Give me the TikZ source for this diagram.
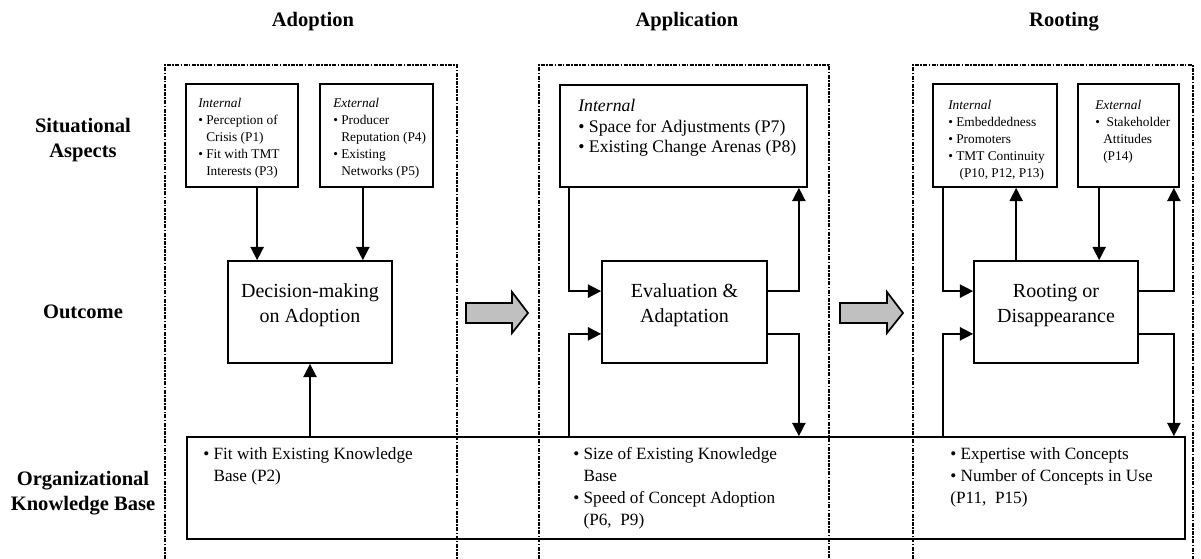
\documentclass[tikz,border=0pt]{standalone}
\usepackage{fontspec}
\setmainfont{Liberation Serif}
\usepackage{xcolor}
\usetikzlibrary{positioning,arrows.meta,fit,calc}
\definecolor{arrowgray}{RGB}{192,192,192}
\newcommand{\bul}{\textbullet\ }
\newcommand{\ind}{\phantom{\textbullet\ }}

\begin{document}
\begin{tikzpicture}[
  x=0.75pt, y=-0.75pt,
  box/.style={draw, line width=1.3pt, inner sep=0pt},
  phase/.style={line width=1.5pt, dash pattern=on 3pt off 1pt on 1.2pt off 1pt},
  arrow/.style={line width=1.2pt, -{Triangle[length=10pt,width=10pt]}},
  head/.style={font=\fontsize{15.4}{18.5}\selectfont\bfseries, align=center},
  outbox/.style={box, align=center, font=\fontsize{15}{18.75}\selectfont},
  small/.style={anchor=north west, inner sep=0pt, align=left, font=\fontsize{10}{12.7}\selectfont},
  mid/.style={anchor=north west, inner sep=0pt, align=left, font=\fontsize{13.3}{15.5}\selectfont},
  base/.style={anchor=north west, inner sep=0pt, align=left, font=\fontsize{12.9}{16.5}\selectfont},
  phasearrow/.style={draw, line width=1.3pt, fill=arrowgray, line join=miter},
]
\useasboundingbox (0,0) rectangle (1201,559);

% phase frames
\draw[phase] (165,559) -- (165,65) -- (457,65) -- (457,559);
\draw[phase] (539,559) -- (539,65) -- (829,65) -- (829,559);
\draw[phase] (913,559) -- (913,65) -- (1193,65) -- (1193,559);

% titles
\node[head] (hAdop) at (313,22) {Adoption};
\node[head] (hAppl) at (687,22) {Application};
\node[head] (hRoot) at (1064,22) {Rooting};

\node[head] (sit) at (83,140) {Situational\\Aspects};
\node[head] (out) at (83,312) {Outcome};
\node[head] (okb) at (83,493) {Organizational\\Knowledge Base};

% situational aspects
\node[box, fill=white, fit={(186,84) (298,187)}] (intA) {};
\node[box, fill=white, fit={(320,84) (433,187)}] (extA) {};
\node[box, fill=white, fit={(560,85) (807,187)}] (intB) {};
\node[box, fill=white, fit={(933,84) (1057,187)}] (intC) {};
\node[box, fill=white, fit={(1078,84) (1179,187)}] (extC) {};

\node[small] (intAtxt) at (198,98) {\textit{Internal}\\\bul Perception of\\\ind Crisis (P1)\\\bul Fit with TMT\\\ind Interests (P3)};
\node[small] (extAtxt) at (333,98) {\textit{External}\\\bul Producer\\\ind Reputation (P4)\\\bul Existing\\\ind Networks (P5)};
\node[mid] (intBtxt) at (578,99) {\textit{Internal}\\\bul Space for Adjustments (P7)\\\bul Existing Change Arenas (P8)};
\node[small] (intCtxt) at (948,100) {\textit{Internal}\\\bul Embeddedness\\\bul Promoters\\\bul TMT Continuity\\\ind\ (P10, P12, P13)};
\node[small] (extCtxt) at (1095,100) {\textit{External}\\\bul\ Stakeholder\\\ind Attitudes\\\ind (P14)};

% outcomes
\node[outbox, fit={(228,261) (392,363)}] (dec) {Decision-making\\on Adoption};
\node[outbox, fit={(602,261) (767,363)}] (eva) {Evaluation \&\\Adaptation};
\node[outbox, fit={(974,261) (1138,363)}] (roo) {Rooting or\\Disappearance};

% knowledge base
\node[box, fit={(187,437) (1185,539)}] (kb) {};
\node[base] (kbA) at (203,447) {\bul Fit with Existing Knowledge\\\ind Base (P2)};
\node[base] (kbB) at (573,447) {\bul Size of Existing Knowledge\\\ind Base\\\bul Speed of Concept Adoption\\\ind (P6,\ \ P9)};
\node[base] (kbC) at (950,447) {\bul Expertise with Concepts\\\bul Number of Concepts in Use\\(P11,\ \ P15)};

% phase arrows
\draw[phasearrow] (466,303) -- (512,303) -- (512,292) -- (528,313) -- (512,333) -- (512,323) -- (466,323) -- cycle;
\draw[phasearrow] (840,303) -- (887,303) -- (887,292) -- (903,313) -- (887,333) -- (887,323) -- (840,323) -- cycle;

% adoption
\coordinate (dIn1) at ($(dec.north west)+(30,0)$);
\coordinate (dIn2) at ($(dec.north east)+(-30,0)$);
\draw[arrow] (dIn1 |- intA.south) -- (dIn1);
\draw[arrow] (dIn2 |- extA.south) -- (dIn2);
\draw[arrow] (dec.south |- kb.north) -- (dec.south);

% application
\coordinate (eL1) at ($(eva.north west)+(0,31)$);
\coordinate (eL2) at ($(eva.south west)+(0,-30)$);
\coordinate (eR1) at ($(eva.north east)+(0,31)$);
\coordinate (eR2) at ($(eva.south east)+(0,-30)$);
\coordinate (bL) at ($(intB.south west)+(10,0)$);
\coordinate (bR) at ($(intB.south east)+(-9,0)$);
\draw[arrow] (bL) |- (eL1);
\draw[arrow] (bL |- kb.north) |- (eL2);
\draw[arrow] (eR1) -| (bR);
\draw[arrow] (eR2) -| (bR |- kb.north);

% rooting
\coordinate (rL1) at ($(roo.north west)+(0,31)$);
\coordinate (rL2) at ($(roo.south west)+(0,-30)$);
\coordinate (rR1) at ($(roo.north east)+(0,31)$);
\coordinate (rR2) at ($(roo.south east)+(0,-30)$);
\coordinate (rUp) at ($(roo.north west)+(43,0)$);
\coordinate (rDn) at ($(roo.north west)+(126,0)$);
\coordinate (cL) at ($(intC.south west)+(11,0)$);
\coordinate (cR) at ($(extC.south east)+(-6,0)$);
\draw[arrow] (cL) |- (rL1);
\draw[arrow] (cL |- kb.north) |- (rL2);
\draw[arrow] (rUp) -- (rUp |- intC.south);
\draw[arrow] (rDn |- extC.south) -- (rDn);
\draw[arrow] (rR1) -| (cR);
\draw[arrow] (rR2) -| (cR |- kb.north);
\end{tikzpicture}
\end{document}
